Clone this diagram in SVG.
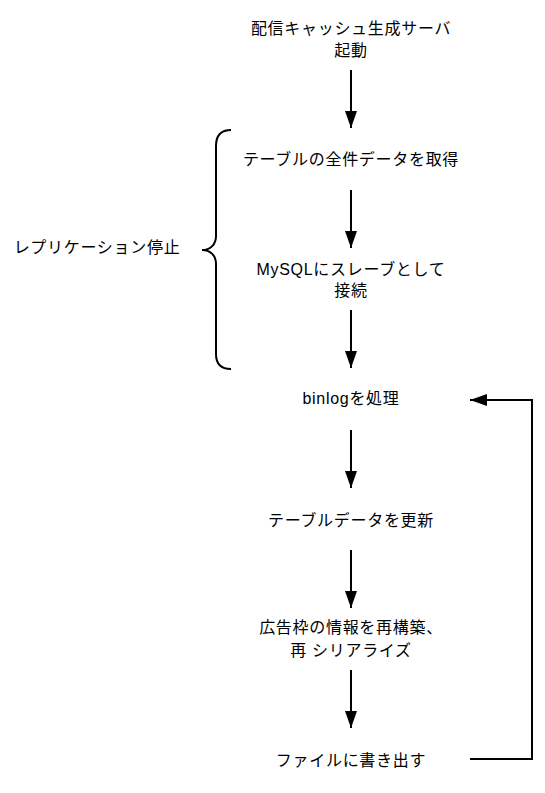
<svg xmlns="http://www.w3.org/2000/svg" width="545" height="793" viewBox="0 0 545 793">
<defs>
<style>
text{font-family:"Liberation Sans","Noto Sans CJK JP",sans-serif;font-size:16px;fill:#000;text-anchor:middle;letter-spacing:0.7px}
.ln{stroke:#000;stroke-width:2;fill:none}
</style>
<marker id="ah" viewBox="0 0 17 12" refX="17" refY="6" markerWidth="17" markerHeight="12" markerUnits="userSpaceOnUse" orient="auto">
<path d="M0,0 L17,6 L0,12 Z" fill="#000"/>
</marker>
</defs>
<rect width="545" height="793" fill="#fff"/>
<g id="n1"><text x="351" y="34">配信キャッシュ生成サーバ</text><text x="351" y="56">起動</text></g>
<g id="n2"><text x="351" y="165">テーブルの全件データを取得</text></g>
<g id="n3"><text x="351" y="275">MySQLにスレーブとして</text><text x="351" y="296">接続</text></g>
<g id="n4"><text x="351" y="404">binlogを処理</text></g>
<g id="n5"><text x="351" y="526">テーブルデータを更新</text></g>
<g id="n6"><text x="351" y="633">広告枠の情報を再構築、</text><text x="351" y="656">再 シリアライズ</text></g>
<g id="n7"><text x="351" y="766">ファイルに書き出す</text></g>
<g id="brace"><path class="ln" d="M231,130 C221,130 216,136 216,146 L216,236 C216,245 210,250 202,250 C210,250 216,255 216,264 L216,354 C216,364 221,369 231,369"/><text x="97" y="253">レプリケーション停止</text></g>
<g id="connectors">
<line class="ln" x1="351" y1="70" x2="351" y2="128" marker-end="url(#ah)"/>
<line class="ln" x1="351" y1="190" x2="351" y2="248" marker-end="url(#ah)"/>
<line class="ln" x1="351" y1="310" x2="351" y2="368" marker-end="url(#ah)"/>
<line class="ln" x1="351" y1="430" x2="351" y2="488" marker-end="url(#ah)"/>
<line class="ln" x1="351" y1="550" x2="351" y2="608" marker-end="url(#ah)"/>
<line class="ln" x1="351" y1="670" x2="351" y2="728" marker-end="url(#ah)"/>
<polyline class="ln" points="470,759 532,759 532,400 470,400" marker-end="url(#ah)"/>
</g>
</svg>
